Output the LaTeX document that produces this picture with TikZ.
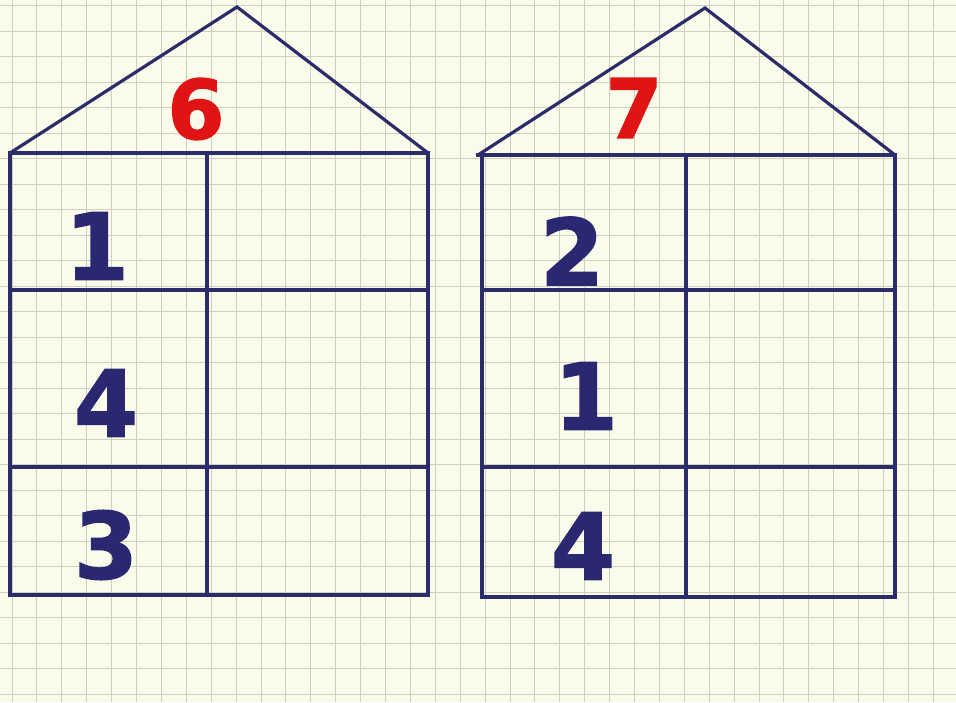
\documentclass[tikz,border=0pt]{standalone}
\usepackage{fontspec}
\setmainfont{DejaVu Sans}
\newfontfamily\numfont[FakeBold=1.6]{DejaVu Sans Bold}
\definecolor{paper}{HTML}{FAFBEA}
\definecolor{gridc}{HTML}{CDD0BE}
\definecolor{ink}{HTML}{2D2C6A}
\definecolor{numc}{HTML}{2A2870}
\definecolor{redc}{HTML}{E01414}
\tikzset{
  wall/.style={draw=ink, line width=3.2pt, line join=miter, line cap=rect},
  bignum/.style={inner sep=0pt, text=numc, font=\numfont\fontsize{92}{92}\selectfont},
  roofnum/.style={inner sep=0pt, text=redc, font=\numfont\fontsize{82}{82}\selectfont},
}
\begin{document}
\begin{tikzpicture}[x=1pt,y=-1pt]
\fill[paper] (0,0) rectangle (956,702);
\useasboundingbox (0,0) rectangle (956,702);
% grid
\foreach \i in {0,...,38} {
  \draw[gridc, line width=1pt] ({12+24.9*\i},0) -- ({12+24.9*\i},702);
}
\foreach \j in {0,...,27} {
  \draw[gridc, line width=1pt] (0,{5.5+25.5*\j}) -- (956,{5.5+25.5*\j});
}
% left house
\coordinate (LA) at (10,153);
\coordinate (LP) at (237,7);
\coordinate (LB) at (428,153);
\coordinate (LC) at (428,595);
\coordinate (LD) at (10,595);
\coordinate (LM1) at (207,153);
\coordinate (LM2) at (207,595);
\coordinate (LR1a) at (10,290);
\coordinate (LR1b) at (428,290);
\coordinate (LR2a) at (10,467);
\coordinate (LR2b) at (428,467);
\draw[wall] (LA) -- (LP) -- (LB);
\draw[wall] (LA) -- (LB) -- (LC) -- (LD) -- cycle;
\draw[wall] (LM1) -- (LM2);
\draw[wall] (LR1a) -- (LR1b);
\draw[wall] (LR2a) -- (LR2b);
% right house
\coordinate (RA) at (478,155);
\coordinate (RP) at (705,8);
\coordinate (RB) at (895,155);
\coordinate (RA2) at (482,155);
\coordinate (RC) at (895,597);
\coordinate (RD) at (482,597);
\coordinate (RM1) at (686,155);
\coordinate (RM2) at (686,597);
\coordinate (RR1a) at (482,290);
\coordinate (RR1b) at (895,290);
\coordinate (RR2a) at (482,467);
\coordinate (RR2b) at (895,467);
\draw[wall] (RA) -- (RP) -- (RB);
\draw[wall] (RA) -- (RB) -- (RC) -- (RD) -- (RA2);
\draw[wall] (RM1) -- (RM2);
\draw[wall] (RR1a) -- (RR1b);
\draw[wall] (RR2a) -- (RR2b);
% numbers
\node[roofnum] (n6) at (196,109) {6};
\node[bignum] (l1) at (97,246) {1};
\node[bignum] (l4) at (106,403) {4};
\node[bignum] (l3) at (106,545) {3};
\node[roofnum] (n7) at (634,108) {7};
\node[bignum] (r2) at (572,251) {2};
\node[bignum] (r1) at (586,396) {1};
\node[bignum] (r4) at (583,546) {4};
\end{tikzpicture}
\end{document}
